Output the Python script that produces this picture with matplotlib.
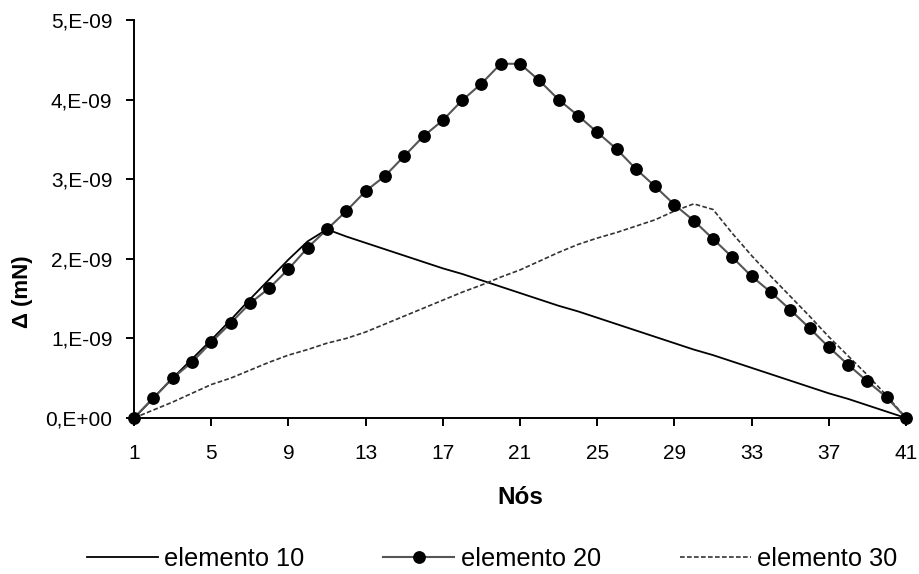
import matplotlib
matplotlib.use("Agg")
import matplotlib.pyplot as plt
import numpy as np

plt.rcParams['font.family'] = ['Liberation Sans', 'DejaVu Sans']

nodes = list(range(1, 42))

elemento_10 = [0.00, 0.25, 0.50, 0.74, 0.98, 1.23, 1.49, 1.74, 1.99, 2.22, 2.37,
               2.28, 2.20, 2.12, 2.04, 1.96, 1.88, 1.81, 1.73, 1.65, 1.57,
               1.49, 1.41, 1.34, 1.26, 1.18, 1.10, 1.02, 0.94, 0.86, 0.79,
               0.71, 0.63, 0.55, 0.47, 0.39, 0.31, 0.24, 0.16, 0.08, 0.00]

elemento_20 = [0.00, 0.25, 0.50, 0.70, 0.95, 1.19, 1.44, 1.63, 1.87, 2.14, 2.37,
               2.60, 2.85, 3.04, 3.29, 3.54, 3.74, 3.99, 4.20, 4.45, 4.45,
               4.24, 4.00, 3.80, 3.59, 3.38, 3.13, 2.91, 2.68, 2.48, 2.25,
               2.02, 1.78, 1.58, 1.36, 1.13, 0.89, 0.67, 0.46, 0.26, 0.00]

elemento_30 = [0.00, 0.10, 0.20, 0.31, 0.42, 0.50, 0.60, 0.70, 0.79, 0.86, 0.94,
               1.00, 1.08, 1.18, 1.28, 1.38, 1.48, 1.58, 1.67, 1.77, 1.86,
               1.97, 2.08, 2.18, 2.26, 2.33, 2.41, 2.49, 2.60, 2.69, 2.62,
               2.32, 2.04, 1.78, 1.53, 1.28, 1.02, 0.78, 0.54, 0.28, 0.00]

x_ticks = [1, 5, 9, 13, 17, 21, 25, 29, 33, 37, 41]
y_ticks = [0, 1e-9, 2e-9, 3e-9, 4e-9, 5e-9]
y_tick_labels = ["0,E+00", "1,E-09", "2,E-09", "3,E-09", "4,E-09", "5,E-09"]

scale = 1e-9
fig = plt.figure(figsize=(9.19, 5.74), dpi=100)
ax = fig.add_axes([134/919, 1-418/574, (906-134)/919, (418-20)/574])

ax.plot(nodes, np.array(elemento_10)*scale, color='black', lw=1.3,
        label='elemento 10', clip_on=False, zorder=3)
ax.plot(nodes, np.array(elemento_20)*scale, color='#555555', lw=1.5,
        marker='o', markersize=8.2, markerfacecolor='black', markeredgecolor='black',
        label='elemento 20', clip_on=False, zorder=4)
ax.plot(nodes, np.array(elemento_30)*scale, color='#333333', lw=1.2,
        linestyle=(0, (2.8, 1.4)), label='elemento 30', clip_on=False, zorder=3)

ax.set_xlim(1, 41)
ax.set_ylim(0, 5e-9)
ax.set_xticks(x_ticks)
ax.set_xticklabels([str(t) for t in x_ticks])
ax.set_yticks(y_ticks)
ax.set_yticklabels(y_tick_labels)
ax.spines['top'].set_visible(False)
ax.spines['right'].set_visible(False)
for s in ('left', 'bottom'):
    ax.spines[s].set_linewidth(1.4)
ax.tick_params(axis='both', direction='out', length=5.5, width=1.4, labelsize=15,
               colors='black')
ax.tick_params(axis='x', pad=13.5)
ax.tick_params(axis='y', pad=10)

ax.set_xlabel('Nós', fontsize=17.5, fontweight='bold')
ax.xaxis.label.set_va('center')
ax.xaxis.set_label_coords(0.5, (418-497)/398)
ax.set_ylabel('Δ (mN)', fontsize=16, fontweight='bold')
ax.yaxis.label.set_va('center')
ax.yaxis.set_label_coords((22-134)/772, (418-292)/398)

leg = fig.legend(loc='center', bbox_to_anchor=(492/919, 1-559/574), ncol=3,
                 frameon=False, fontsize=18.3, handlelength=2.8, columnspacing=3.1,
                 handletextpad=0.25, borderaxespad=0, borderpad=0)

fig.savefig('out.png', dpi=100, facecolor='white')
